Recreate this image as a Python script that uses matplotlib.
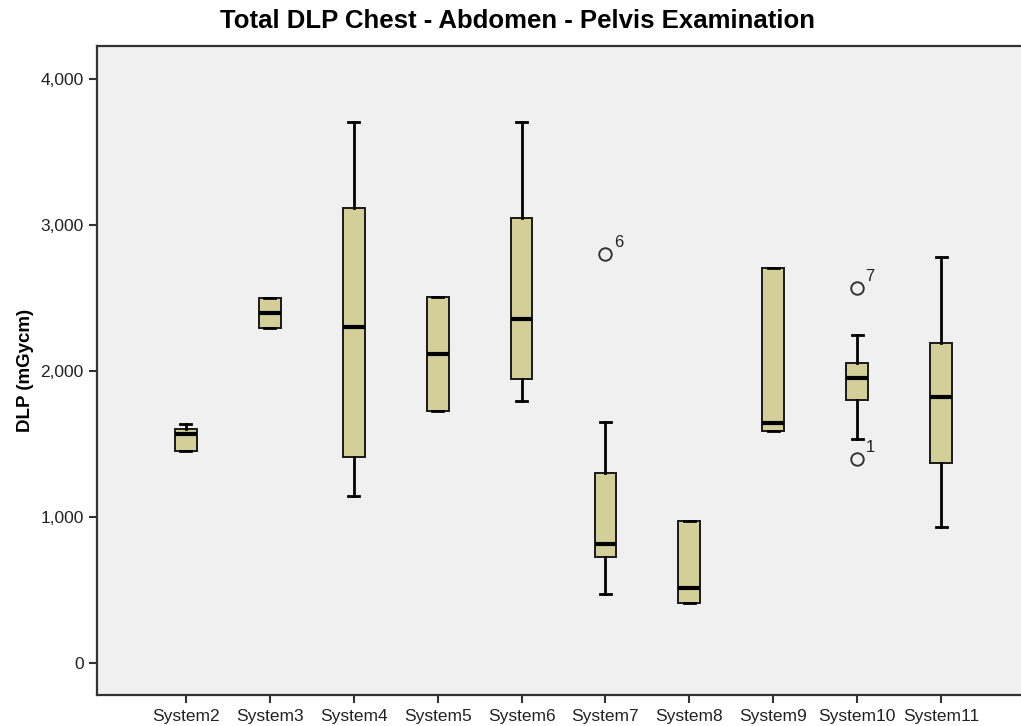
import matplotlib.pyplot as plt

plt.rcParams['font.family'] = ['Liberation Sans', 'DejaVu Sans']

# values (mGycm)
systems = ['System2', 'System3', 'System4', 'System5', 'System6',
           'System7', 'System8', 'System9', 'System10', 'System11']
whisker_low = [1451, 2291, 1145, 1727, 1793, 472, 409, 1590, 1531, 933]
q1 = [1451, 2291, 1412, 1727, 1944, 728, 409, 1590, 1800, 1367]
median = [1567, 2393, 2298, 2115, 2355, 812, 511, 1641, 1949, 1819]
q3 = [1600, 2496, 3112, 2503, 3048, 1298, 972, 2701, 2051, 2188]
whisker_high = [1634, 2496, 3702, 2503, 3705, 1647, 972, 2701, 2243, 2781]
outliers = [[], [], [], [], [], [2797], [], [], [2565, 1396], []]
outlier_ids = [[], [], [], [], [], ['6'], [], [], ['7', '1'], []]

stats = []
for i, name in enumerate(systems):
    stats.append({'label': name, 'whislo': whisker_low[i], 'q1': q1[i],
                  'med': median[i], 'q3': q3[i], 'whishi': whisker_high[i],
                  'fliers': outliers[i]})

fig = plt.figure(figsize=(10.21, 7.26), dpi=100)
ax = fig.add_axes([97 / 1021, 31 / 726, 933 / 1021, 649 / 726])
ax.set_facecolor('#f0f0f0')

positions = list(range(len(systems)))
ax.bxp(stats, positions=positions, widths=0.26, capwidths=0.13, patch_artist=True,
       boxprops=dict(facecolor='#d4cf98', edgecolor='#1a1a1a', linewidth=1.4),
       medianprops=dict(color='black', linewidth=3),
       whiskerprops=dict(color='black', linewidth=2),
       capprops=dict(color='black', linewidth=2),
       flierprops=dict(marker='o', markerfacecolor='none', markeredgecolor='#333333',
                       markersize=9, markeredgewidth=1.4))

for i, pts in enumerate(outliers):
    for v, lab in zip(pts, outlier_ids[i]):
        ax.annotate(lab, (positions[i], v), xytext=(6, 3), textcoords='offset points',
                    fontsize=12, color='#222222', va='bottom', ha='left')

ax.set_xlim(-1.06, 10.06)
ax.set_ylim(-219, 4223)
ax.set_yticks([0, 1000, 2000, 3000, 4000])
ax.set_yticklabels(['0', '1,000', '2,000', '3,000', '4,000'])
ax.set_xticks(positions)
ax.set_xticklabels(systems)
ax.tick_params(axis='both', labelsize=12.5, width=1.5, length=6, color='#333333',
               labelcolor='#222222')
ax.tick_params(axis='x', pad=4)

for side in ['left', 'bottom', 'top']:
    ax.spines[side].set_linewidth(1.6)
    ax.spines[side].set_color('#333333')
ax.spines['right'].set_visible(False)

ax.set_ylabel('DLP (mGycm)', fontsize=13.5, fontweight='bold')
ax.yaxis.set_label_coords(-0.067, 0.5)
fig.text(518 / 1021, 1 - 21 / 726, 'Total DLP Chest - Abdomen - Pelvis Examination',
         ha='center', va='center', fontsize=18.5, fontweight='bold')

fig.savefig('out.png', dpi=100)
